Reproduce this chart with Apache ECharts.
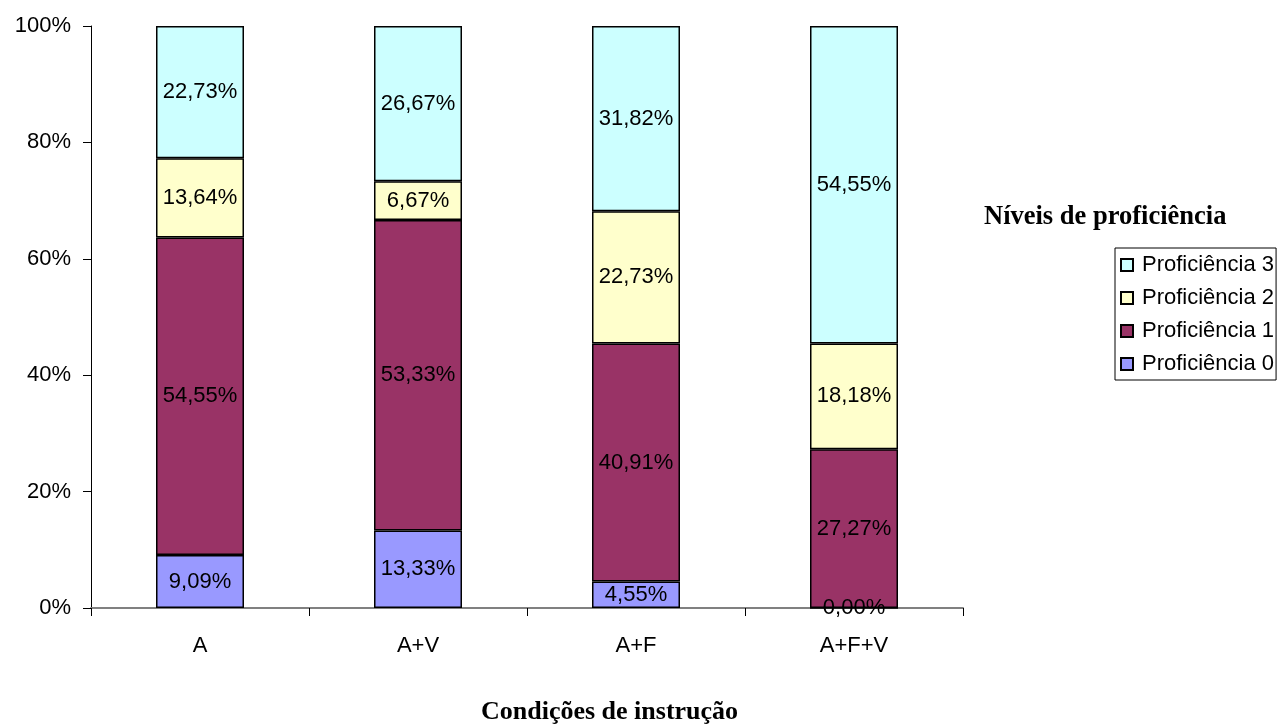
<!DOCTYPE html>
<html>
<head>
<meta charset="utf-8">
<script src="https://cdn.jsdelivr.net/npm/echarts@6/dist/echarts.min.js"></script>
<style>
  html, body { margin: 0; padding: 0; background: #fff; }
  #chart { width: 1278px; height: 724px; }
</style>
</head>
<body>
<div id="chart"></div>
<script>
// Instruction conditions and the share of students at each proficiency level (%)
const categories = ['A', 'A+V', 'A+F', 'A+F+V'];
const prof0 = [9.09, 13.33, 4.55, 0.00];
const prof1 = [54.55, 53.33, 40.91, 27.27];
const prof2 = [13.64, 6.67, 22.73, 18.18];
const prof3 = [22.73, 26.67, 31.82, 54.55];
const yTicks = [0, 20, 40, 60, 80, 100];

const seriesDefs = [
  { name: 'Proficiência 0', data: prof0, color: '#9999FF' },
  { name: 'Proficiência 1', data: prof1, color: '#993366' },
  { name: 'Proficiência 2', data: prof2, color: '#FFFFCC' },
  { name: 'Proficiência 3', data: prof3, color: '#CCFFFF' }
];

const fmt = v => v.toFixed(2).replace('.', ',') + '%';
const font = 'Arial, "Liberation Sans", sans-serif';
const serif = '"Times New Roman", "Liberation Serif", serif';

const chart = echarts.init(document.getElementById('chart'), null, { renderer: 'canvas' });

chart.setOption({
  animation: false,
  backgroundColor: '#ffffff',
  textStyle: { fontFamily: font },
  title: [
    {
      text: 'Níveis de proficiência',
      left: 979, top: 199,
      textStyle: { fontFamily: serif, fontWeight: 'bold', fontSize: 26.5, color: '#000' }
    },
    {
      text: 'Condições de instrução',
      left: 476, top: 694,
      textStyle: { fontFamily: serif, fontWeight: 'bold', fontSize: 26, color: '#000' }
    }
  ],
  legend: {
    orient: 'vertical',
    left: 1115, top: 248,
    data: seriesDefs.map(s => s.name).reverse(),
    icon: 'rect',
    itemWidth: 12, itemHeight: 12,
    itemGap: 11,
    padding: [6, 2, 5, 5],
    borderColor: '#000', borderWidth: 1,
    textStyle: { fontFamily: font, fontSize: 22, lineHeight: 22, color: '#000', padding: [0, 0, 0, 4] }
  },
  grid: { left: 91, right: 315, top: 26, bottom: 116, containLabel: false },
  xAxis: {
    type: 'category',
    data: categories,
    axisLine: { lineStyle: { color: '#808080', width: 2 } },
    axisTick: { show: true, length: 8, lineStyle: { color: '#000' } },
    axisLabel: { fontFamily: font, fontSize: 22, color: '#000', margin: 27 }
  },
  yAxis: {
    type: 'value',
    min: yTicks[0], max: yTicks[yTicks.length - 1], interval: 20,
    axisLine: { show: true, lineStyle: { color: '#000', width: 1 } },
    axisTick: { show: true, length: 8, lineStyle: { color: '#000' } },
    splitLine: { show: false },
    axisLabel: { fontFamily: font, fontSize: 22, color: '#000', margin: 20, formatter: '{value}%' }
  },
  series: seriesDefs.map(s => ({
    name: s.name,
    type: 'bar',
    stack: 'total',
    barWidth: 88,
    data: s.data,
    itemStyle: { color: s.color, borderColor: '#000', borderWidth: 1.5 },
    label: {
      show: true,
      position: 'inside',
      fontFamily: font, fontSize: 22, color: '#000',
      formatter: p => fmt(p.value)
    }
  }))
});
</script>
</body>
</html>
